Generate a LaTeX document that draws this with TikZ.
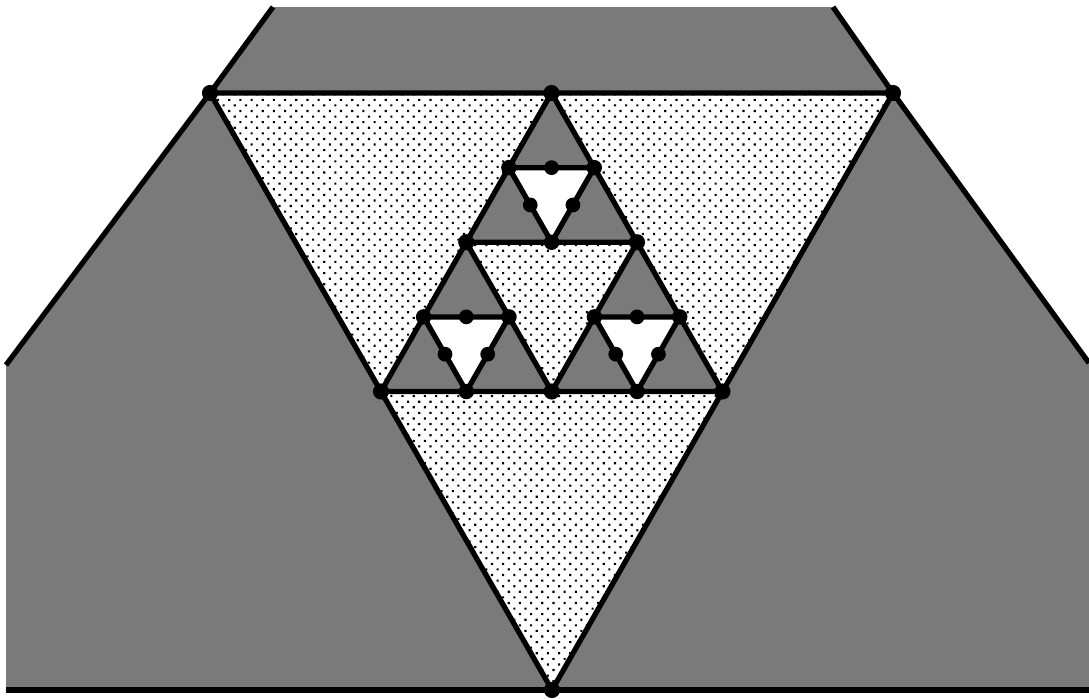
\documentclass[tikz,border=0pt]{standalone}
\usetikzlibrary{calc, patterns.meta}

\begin{document}
\begin{tikzpicture}[
  x=0.02cm, y=-0.02cm,
  dark/.style={fill=black!52},
  light/.style={fill=white, postaction={pattern={Dots[angle=45, distance=4.5pt, radius=0.85pt]}}},
  hole/.style={fill=white},
  edge/.style={draw, line width=3pt, line join=round},
  vertex/.style={fill=black}]

\useasboundingbox (0,0) rectangle (1089,698);

% corners of the big triangle and its halvings
\coordinate (A) at (210,93);
\coordinate (B) at (893,93);
\coordinate (C) at (552,690);
\coordinate (T) at ($(A)!0.5!(B)$);
\coordinate (L) at ($(A)!0.5!(C)$);
\coordinate (R) at ($(B)!0.5!(C)$);
\coordinate (TL) at ($(T)!0.5!(L)$);
\coordinate (TR) at ($(T)!0.5!(R)$);
\coordinate (LR) at ($(L)!0.5!(R)$);

% ends of the outer band
\coordinate (nw) at (273,7);
\coordinate (ne) at (833,7);
\coordinate (w)  at (6,365);
\coordinate (e)  at (1089,363);
\coordinate (sw) at (6,690);
\coordinate (se) at (1089,690);

\fill[dark] (nw) -- (ne) -- (B) -- (e) -- (se) -- (sw) -- (w) -- (A) -- cycle;
\path[light] (A) -- (B) -- (C) -- cycle;
\fill[dark] (T) -- (L) -- (R) -- cycle;
\path[light] (TL) -- (TR) -- (LR) -- cycle;

\draw[edge] (nw) -- (A) -- (w);
\draw[edge] (ne) -- (B) -- (e);
\draw[edge] (sw) -- (se);
\draw[edge] (A) -- (B) -- (C) -- cycle;
\draw[edge] (T) -- (L) -- (R) -- cycle;
\draw[edge] (TL) -- (TR) -- (LR) -- cycle;

% the three small triangles with a hole
\foreach \p/\q/\r [count=\i] in {T/TL/TR, TL/L/LR, TR/LR/R} {
  \coordinate (h\i-a) at ($(\p)!0.5!(\q)$);
  \coordinate (h\i-b) at ($(\p)!0.5!(\r)$);
  \coordinate (h\i-c) at ($(\q)!0.5!(\r)$);
  \path[hole, edge] (h\i-a) -- (h\i-b) -- (h\i-c) -- cycle;
  \foreach \v in {h\i-a, h\i-b, h\i-c}
    \fill[vertex] (\v) circle (4.4pt);
  \fill[vertex] ($(h\i-a)!0.5!(h\i-b)$) circle (4.2pt);
  \fill[vertex] ($(h\i-a)!0.5!(h\i-c)$) circle (4.2pt);
  \fill[vertex] ($(h\i-b)!0.5!(h\i-c)$) circle (4.2pt);
}

\foreach \v in {A, T, B, L, R, C, TL, TR, LR}
  \fill[vertex] (\v) circle (4.6pt);
\end{tikzpicture}
\end{document}
